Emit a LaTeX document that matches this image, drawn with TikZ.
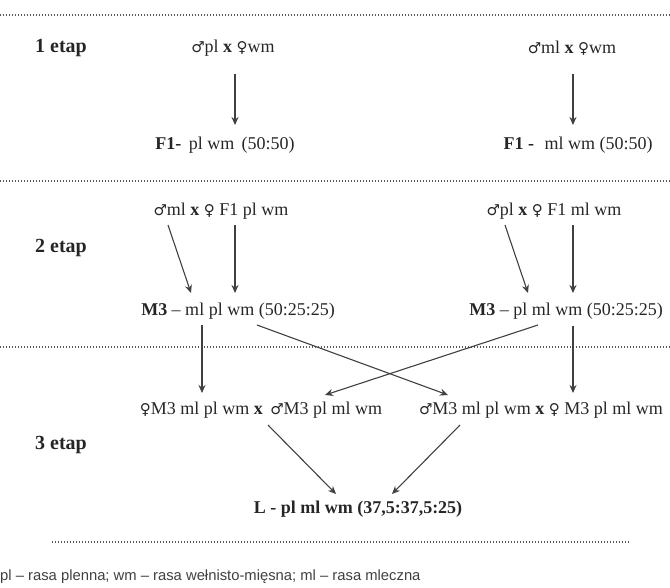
\documentclass[tikz,border=0pt]{standalone}
\usepackage{fontspec}
\setmainfont{Liberation Serif}
\newfontfamily\footfont{Liberation Sans}
\newfontfamily\symfont{DejaVu Sans}
\newcommand{\ml}{{\symfont\fontsize{15}{15}\selectfont ♂}}
\newcommand{\fm}{{\symfont\fontsize{15}{15}\selectfont ♀}}
\usetikzlibrary{arrows.meta}
\begin{document}
\begin{tikzpicture}[x=1pt,y=-1pt,
  txt/.style={inner sep=1pt, font=\fontsize{18}{20}\selectfont, text=black!85},
  etap/.style={inner sep=1pt, font=\fontsize{20}{22}\selectfont\bfseries, text=black!85},
  sep/.style={draw=black!65, line width=1.2pt, dash pattern=on 1.2pt off 1.8pt},
  arr/.style={draw=black!75, line width=1.1pt, -{Stealth[length=8pt,width=7pt]}}]
\useasboundingbox (0,0) rectangle (670,587);
% separators
\coordinate (s1a) at (0,15); \coordinate (s1b) at (670,15);
\coordinate (s2a) at (0,181); \coordinate (s2b) at (670,181);
\coordinate (s3a) at (0,347); \coordinate (s3b) at (670,347);
\coordinate (s4a) at (52,542); \coordinate (s4b) at (630,542);
\draw[sep] (s1a) -- (s1b);
\draw[sep] (s2a) -- (s2b);
\draw[sep] (s3a) -- (s3b);
\draw[sep] (s4a) -- (s4b);
% stage labels
\node[etap, anchor=west] (e1) at (34,48) {1 etap};
\node[etap, anchor=west] (e2) at (34,248) {2 etap};
\node[etap, anchor=west] (e3) at (34,445) {3 etap};
% stage 1
\node[txt] (p1) at (233,48) {\ml pl \textbf{x} \fm wm};
\node[txt] (p2) at (572,48) {\ml ml \textbf{x} \fm wm};
\node[txt] (f1) at (225,145) {\textbf{F1-}\, pl wm\, (50:50)};
\node[txt] (f2) at (578,145) {\textbf{F1 -}\,\, ml wm (50:50)};
\coordinate (a1s) at (235,74); \coordinate (a1e) at (235,125);
\coordinate (a2s) at (573,74); \coordinate (a2e) at (573,125);
\draw[arr] (a1s) -- (a1e);
\draw[arr] (a2s) -- (a2e);
% stage 2
\node[txt] (c1) at (221,211) {\ml ml \textbf{x} \fm\ F1 pl wm};
\node[txt] (c2) at (554,211) {\ml pl \textbf{x} \fm\ F1 ml wm};
\node[txt] (m1) at (238,311) {\textbf{M3} – ml pl wm (50:25:25)};
\node[txt] (m2) at (566,311) {\textbf{M3} – pl ml wm (50:25:25)};
\coordinate (b1s) at (168,225); \coordinate (b1e) at (191,293);
\coordinate (b2s) at (235,225); \coordinate (b2e) at (235,293);
\coordinate (b3s) at (505,225); \coordinate (b3e) at (528,293);
\coordinate (b4s) at (573,225); \coordinate (b4e) at (573,293);
\draw[arr] (b1s) -- (b1e);
\draw[arr] (b2s) -- (b2e);
\draw[arr] (b3s) -- (b3e);
\draw[arr] (b4s) -- (b4e);
% stage 3
\node[txt] (r1) at (261,410) {\fm M3 ml pl wm \textbf{x}\, \ml M3 pl ml wm};
\node[txt] (r2) at (541,410) {\ml M3 ml pl wm \textbf{x} \fm\ M3 pl ml wm};
\node[txt, font=\fontsize{18}{20}\selectfont\bfseries] (L) at (358,509) {L - pl ml wm (37,5:37,5:25)};
\coordinate (c1s) at (202,325); \coordinate (c1e) at (202,393);
\coordinate (c2s) at (257,325); \coordinate (c2e) at (448,395);
\coordinate (c3s) at (538,325); \coordinate (c3e) at (325,395);
\coordinate (c4s) at (573,326); \coordinate (c4e) at (573,393);
\draw[arr] (c1s) -- (c1e);
\draw[arr] (c2s) -- (c2e);
\draw[arr] (c3s) -- (c3e);
\draw[arr] (c4s) -- (c4e);
\coordinate (d1s) at (268,425); \coordinate (d1e) at (336,494);
\coordinate (d2s) at (460,425); \coordinate (d2e) at (392,494);
\draw[arr] (d1s) -- (d1e);
\draw[arr] (d2s) -- (d2e);
% footer
\node[inner sep=0pt, anchor=west, font=\footfont\fontsize{14.8}{16}\selectfont, text=black!75] (foot) at (0,577) {pl – rasa plenna; wm – rasa wełnisto-mięsna; ml – rasa mleczna};
\end{tikzpicture}
\end{document}
